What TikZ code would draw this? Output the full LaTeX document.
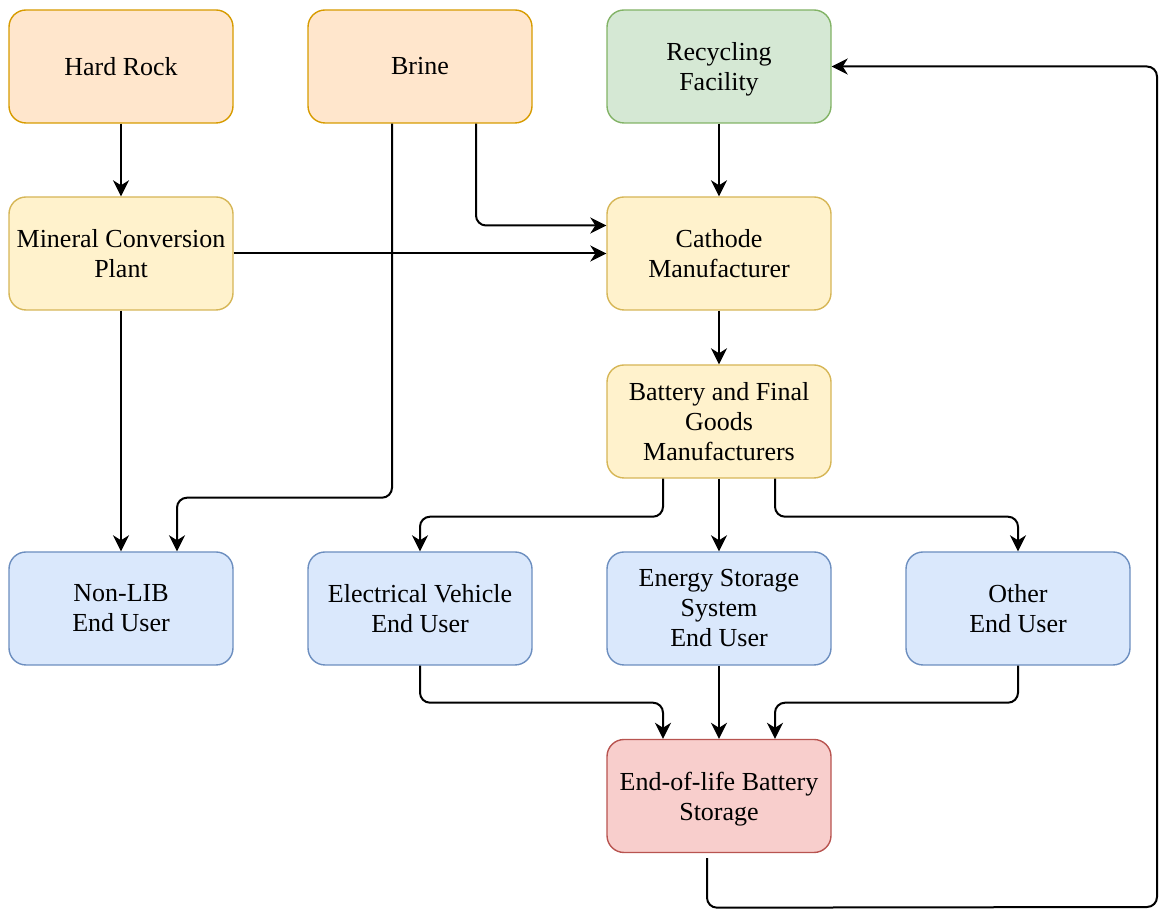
\documentclass[tikz,border=0pt]{standalone}
\usepackage{fontspec}
\setmainfont{Liberation Serif}
\usetikzlibrary{arrows.meta}
\definecolor{orfill}{HTML}{FFE6CC}\definecolor{ordraw}{HTML}{D79B00}
\definecolor{yefill}{HTML}{FFF2CC}\definecolor{yedraw}{HTML}{D6B656}
\definecolor{grfill}{HTML}{D5E8D4}\definecolor{grdraw}{HTML}{82B366}
\definecolor{blfill}{HTML}{DAE8FC}\definecolor{bldraw}{HTML}{6C8EBF}
\definecolor{rdfill}{HTML}{F8CECC}\definecolor{rddraw}{HTML}{B85450}
\newcommand{\nodepth}[1]{\raisebox{0pt}[\height][0pt]{#1}}
\tikzset{
  box/.style={rectangle, rounded corners=17pt, minimum width=224pt, minimum height=113pt,
    line width=1.4pt, align=center, inner sep=2pt,
    font=\fontsize{26}{30}\selectfont},
  orbox/.style={box, fill=orfill, draw=ordraw},
  yebox/.style={box, fill=yefill, draw=yedraw},
  grbox/.style={box, fill=grfill, draw=grdraw},
  blbox/.style={box, fill=blfill, draw=bldraw},
  rdbox/.style={box, fill=rdfill, draw=rddraw},
  arr/.style={line width=2pt,
    -{Stealth[length=16pt,width=16pt,inset=5pt]}},
  bentarr/.style={arr, rounded corners=10pt}
}
\begin{document}
\begin{tikzpicture}[x=1pt,y=1pt]
\useasboundingbox (0,0) rectangle (1159,909);
\node[orbox] (hr) at (121,842.5) {Hard Rock};
\node[orbox] (brine) at (420,842.5) {Brine};
\node[grbox] (rec) at (719,842.5) {Recycling\\\nodepth{Facility}};
\node[yebox] (mcp) at (121,655.5) {Mineral Conversion\\Plant};
\node[yebox] (cath) at (719,655.5) {Cathode\\Manufacturer};
\node[yebox] (bat) at (719,487.5) {Battery and Final\\Goods\\Manufacturers};
\node[blbox] (nonlib) at (121,300.5) {Non-LIB\\End User};
\node[blbox] (ev) at (420,300.5) {Electrical Vehicle\\End User};
\node[blbox] (ess) at (719,300.5) {Energy Storage\\System\\End User};
\node[blbox] (oth) at (1018,300.5) {Other\\End User};
\node[rdbox] (eol) at (719,113) {End-of-life Battery\\\nodepth{Storage}};

\draw[arr] (hr) -- (mcp);
\draw[bentarr] ([xshift=-28pt]brine.south) -- ++(0,-374) -| ([xshift=56pt]nonlib.north);
\draw[bentarr] ([xshift=56pt]brine.south) |- ([yshift=28pt]cath.west);
\draw[arr] (mcp.east) -- (cath.west);
\draw[arr] (mcp) -- (nonlib);
\draw[arr] (rec) -- (cath);
\draw[arr] (cath) -- (bat);
\draw[bentarr] ([xshift=-56pt]bat.south) -- ++(0,-38) -| (ev.north);
\draw[arr] (bat) -- (ess);
\draw[bentarr] ([xshift=56pt]bat.south) -- ++(0,-38) -| (oth.north);
\draw[bentarr] (ev.south) -- ++(0,-37) -| ([xshift=-56pt]eol.north);
\draw[arr] (ess) -- (eol);
\draw[bentarr] (oth.south) -- ++(0,-37) -| ([xshift=56pt]eol.north);
\draw[bentarr] ([xshift=-12pt,yshift=-5pt]eol.south) -- ++(0,-49.5) -- (1157,2) |- (rec.east);
\end{tikzpicture}
\end{document}
